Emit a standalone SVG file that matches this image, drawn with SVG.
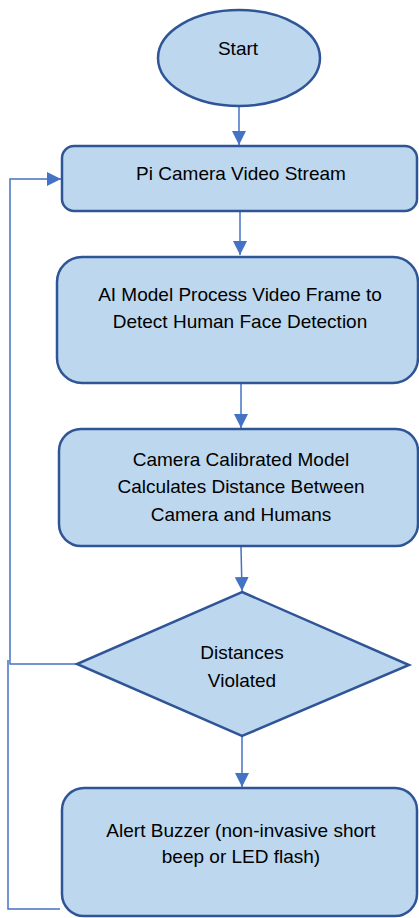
<svg xmlns="http://www.w3.org/2000/svg" width="419" height="918" viewBox="0 0 419 918">
<style>
.n{fill:#BDD7EE;stroke:#2F5597;stroke-width:2.5}
.c{fill:none;stroke:#4472C4;stroke-width:1.5}
.t{font-family:"Liberation Sans",Arial,sans-serif;font-size:19px;fill:#000;text-anchor:middle}
</style>
<defs>
<marker id="ah" markerUnits="userSpaceOnUse" markerWidth="14" markerHeight="14" refX="14" refY="7" orient="auto">
<path d="M0,0 L14,7 L0,14 Z" fill="#4472C4"/>
</marker>
</defs>
<g id="connectors">
<line class="c" x1="239" y1="107" x2="239" y2="145" marker-end="url(#ah)"/>
<line class="c" x1="240" y1="212" x2="240" y2="255" marker-end="url(#ah)"/>
<line class="c" x1="241" y1="383" x2="241" y2="428" marker-end="url(#ah)"/>
<line class="c" x1="241" y1="547" x2="242" y2="591" marker-end="url(#ah)"/>
<line class="c" x1="242" y1="736" x2="242" y2="787" marker-end="url(#ah)"/>
<polyline class="c" points="77,664 10,664 10,179 61,179" marker-end="url(#ah)"/>
<polyline class="c" points="60,909 8,909 8,660"/>
</g>
<g id="start">
<ellipse class="n" cx="239" cy="58" rx="81" ry="48"/>
<text class="t" x="238" y="55">Start</text>
</g>
<g id="stream">
<rect class="n" x="62" y="146" width="355" height="65" rx="12"/>
<text class="t" x="241" y="180">Pi Camera Video Stream</text>
</g>
<g id="ai">
<rect class="n" x="57" y="257" width="361" height="126" rx="25"/>
<text class="t" x="240" y="301">AI Model Process Video Frame to</text>
<text class="t" x="240" y="328">Detect Human Face Detection</text>
</g>
<g id="calc">
<rect class="n" x="59" y="429" width="359" height="117" rx="22"/>
<text class="t" x="241" y="466">Camera Calibrated Model</text>
<text class="t" x="241" y="493">Calculates Distance Between</text>
<text class="t" x="241" y="521">Camera and Humans</text>
</g>
<g id="decision">
<polygon class="n" points="242,592 409,665 242,736 77,664"/>
<text class="t" x="242" y="659">Distances</text>
<text class="t" x="242" y="687">Violated</text>
</g>
<g id="alert">
<rect class="n" x="62" y="788" width="355" height="128" rx="22"/>
<text class="t" x="241" y="837">Alert Buzzer (non-invasive short</text>
<text class="t" x="241" y="863">beep or LED flash)</text>
</g>
</svg>
